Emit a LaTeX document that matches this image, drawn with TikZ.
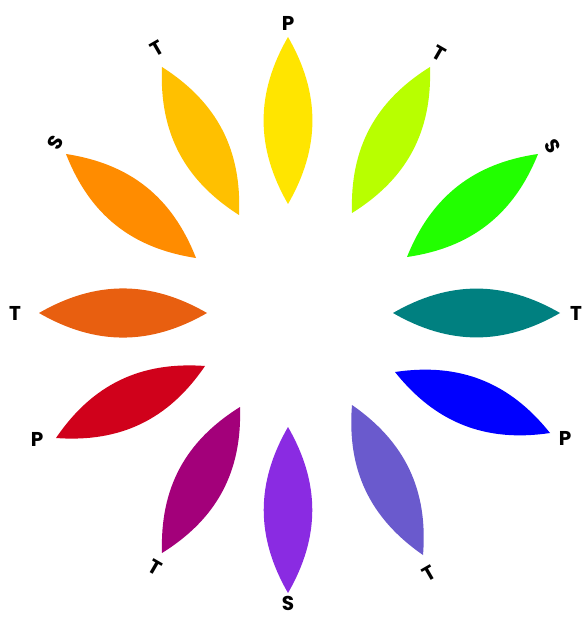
\documentclass[tikz,border=0pt]{standalone}
\usepackage{fontspec}
\setmainfont{Poppins}
\definecolor{petalYellow}{HTML}{FFE500}
\definecolor{petalLime}{HTML}{B8FF00}
\definecolor{petalGreen}{HTML}{22FF00}
\definecolor{petalTeal}{HTML}{008080}
\definecolor{petalBlue}{HTML}{0000FF}
\definecolor{petalSlate}{HTML}{6A5ACD}
\definecolor{petalViolet}{HTML}{8A2BE2}
\definecolor{petalPlum}{HTML}{A3007A}
\definecolor{petalRed}{HTML}{D0011B}
\definecolor{petalRust}{HTML}{E85F10}
\definecolor{petalOrange}{HTML}{FF8C00}
\definecolor{petalAmber}{HTML}{FFC000}
\begin{document}
\begin{tikzpicture}[x=1pt, y=-1pt,
  lab/.style={font=\fontsize{20}{20}\selectfont\bfseries, inner sep=0pt}]
  \useasboundingbox (0,0) rectangle (584,617);
  % Petals: inner tip / outer tip / colour
  \foreach \ix/\iy/\ox/\oy/\col in {
      288/204/288/37/petalYellow, 352/213/430/67/petalLime,
      407/257/538/154/petalGreen, 393/313/560/313/petalTeal,
      395/372/550/433/petalBlue,  352/405/423/555/petalSlate,
      288/427/288/593/petalViolet, 240/407/162/553/petalPlum,
      205/366/56/438/petalRed,    207/313/39/313/petalRust,
      196/258/66/154/petalOrange, 239/215/162/67/petalAmber} {
    \fill[\col] (\ix,\iy) to[bend left=30] (\ox,\oy)
      to[bend left=30] (\ix,\iy) -- cycle;
  }
  % Labels
  \node[lab] (pYellow) at (288,23) {P};
  \node[lab, rotate=-30] (tLime) at (439,53) {T};
  \node[lab, rotate=-60] (sGreen) at (553,146) {S};
  \node[lab] (tTeal) at (576,313) {T};
  \node[lab] (pBlue) at (565,438) {P};
  \node[lab, rotate=30] (tSlate) at (429,573) {T};
  \node[lab] (sViolet) at (288,603) {S};
  \node[lab, rotate=-30] (tPlum) at (155,567) {T};
  \node[lab] (pRed) at (37,439) {P};
  \node[lab] (tRust) at (15,313) {T};
  \node[lab, rotate=60] (sOrange) at (55,143) {S};
  \node[lab, rotate=30] (tAmber) at (157,48) {T};
\end{tikzpicture}
\end{document}
